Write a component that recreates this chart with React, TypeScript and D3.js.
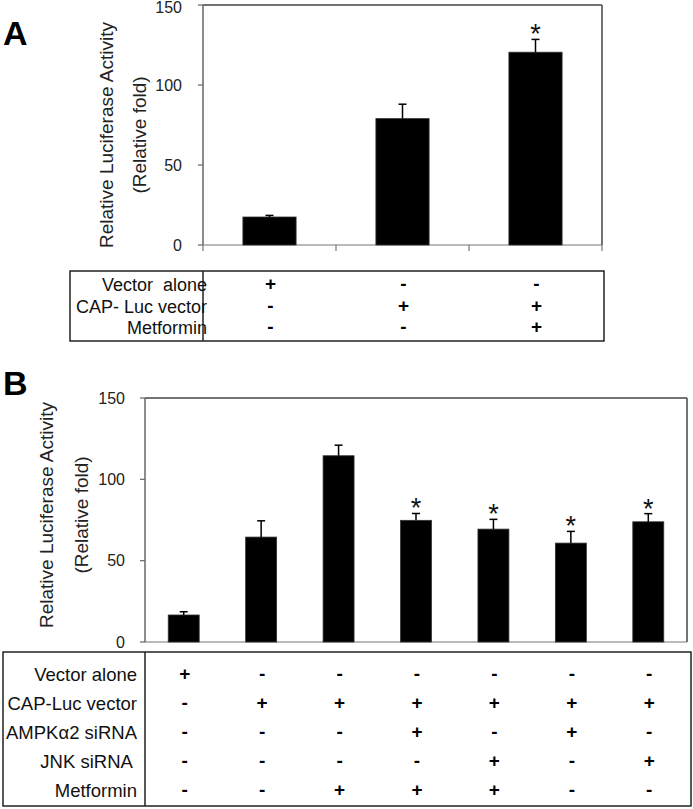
import React from "react";
import * as d3 from "d3";

// ---- Panel A data ----
const groupsA = ["A1", "A2", "A3"];
const meansA = [17.5, 79, 120.5];
const errorsA = [1, 9, 8];
const starsA = [false, false, true];
const rowLabelsA = ["Vector  alone", "CAP- Luc vector", "Metformin"];
const signsA = [
  ["+", "-", "-"],
  ["-", "+", "+"],
  ["-", "-", "+"],
];

// ---- Panel B data ----
const groupsB = ["B1", "B2", "B3", "B4", "B5", "B6", "B7"];
const meansB = [16.6, 64.5, 114.5, 74.8, 69.4, 60.8, 73.9];
const errorsB = [2, 10, 6.5, 4.2, 6, 7.2, 5];
const starsB = [false, false, false, true, true, true, true];
const rowLabelsB = ["Vector alone", "CAP-Luc vector", "AMPKα2 siRNA", "JNK siRNA ", "Metformin"];
const signsB = [
  ["+", "-", "-", "-", "-", "-", "-"],
  ["-", "+", "+", "+", "+", "+", "+"],
  ["-", "-", "-", "+", "-", "+", "-"],
  ["-", "-", "-", "-", "+", "-", "+"],
  ["-", "-", "+", "+", "+", "-", "-"],
];

const yTicks = [0, 50, 100, 150];
const yTitle1 = "Relative Luciferase Activity";
const yTitle2 = "(Relative fold)";

const FONT = "'Liberation Sans', Arial, sans-serif";

type PanelProps = {
  letter: string;
  letterY: number;
  groups: string[];
  means: number[];
  errors: number[];
  stars: boolean[];
  left: number;
  right: number;
  top: number;
  bottom: number;
  xTicks: boolean;
  titleX1: number;
  titleX2: number;
  titleY: number;
  table: { x0: number; x1: number; y0: number; y1: number; labelX: number; rows: number[]; font: number };
  rowLabels: string[];
  signs: string[][];
  tickGap: number;
};

function Panel(p: PanelProps) {
  const x = d3
    .scaleBand<string>()
    .domain(p.groups)
    .range([p.left, p.right])
    .paddingInner(0.6)
    .paddingOuter(0.3);
  const y = d3.scaleLinear().domain([0, 150]).range([p.bottom, p.top]);
  const step = x.step();
  const bw = x.bandwidth();
  const boundaries = p.groups.map((g) => (x(g) as number) - (step - bw) / 2).concat([p.right]);
  const axisColor = "#444";
  return (
    <g>
      <text x={3} y={p.letterY} fontFamily={FONT} fontWeight="bold" fontSize={34} fill="#000">
        {p.letter}
      </text>
      {/* y title */}
      <text
        transform={`translate(${p.titleX1},${p.titleY}) rotate(-90)`}
        textAnchor="middle"
        fontFamily={FONT}
        fontSize={19}
        fill="#222"
      >
        {yTitle1}
      </text>
      <text
        transform={`translate(${p.titleX2},${p.titleY}) rotate(-90)`}
        textAnchor="middle"
        fontFamily={FONT}
        fontSize={19}
        fill="#222"
      >
        {yTitle2}
      </text>
      {/* box */}
      <line x1={p.left} x2={p.right} y1={p.top} y2={p.top} stroke={axisColor} strokeWidth={1.5} />
      <line x1={p.right} x2={p.right} y1={p.top} y2={p.bottom} stroke={axisColor} strokeWidth={1.5} />
      <line x1={p.left} x2={p.left} y1={p.top} y2={p.bottom} stroke="#666" strokeWidth={1.5} />
      <line x1={p.left} x2={p.right} y1={p.bottom} y2={p.bottom} stroke="#777" strokeWidth={1.2} />
      {yTicks.map((t) => (
        <g key={t}>
          <line x1={p.left - 5} x2={p.left} y1={y(t)} y2={y(t)} stroke="#666" strokeWidth={1.2} />
          <text
            x={p.left - p.tickGap}
            y={Math.max(y(t), 7)}
            dy="0.36em"
            textAnchor="end"
            fontFamily={FONT}
            fontSize={16}
            fill="#222"
          >
            {t}
          </text>
        </g>
      ))}
      {p.xTicks &&
        boundaries.map((b, i) => (
          <line key={i} x1={b} x2={b} y1={p.bottom} y2={p.bottom + 6} stroke="#777" strokeWidth={1.2} />
        ))}
      {/* bars */}
      {p.groups.map((g, i) => {
        const bx = x(g) as number;
        const cx = bx + bw / 2;
        const top = y(p.means[i]);
        const et = y(p.means[i] + p.errors[i]);
        return (
          <g key={g}>
            <rect x={bx} y={top} width={bw} height={p.bottom - top} fill="#000" stroke="#333" strokeWidth={0.8} />
            <line x1={cx} x2={cx} y1={top} y2={et} stroke="#000" strokeWidth={1.5} />
            <line x1={cx - 4} x2={cx + 4} y1={et} y2={et} stroke="#000" strokeWidth={1.5} />
            {p.stars[i] && (
              <text x={cx} y={et + 4} textAnchor="middle" fontFamily={FONT} fontSize={27} fill="#111">
                *
              </text>
            )}
          </g>
        );
      })}
      {/* table */}
      <rect
        x={p.table.x0}
        y={p.table.y0}
        width={p.table.x1 - p.table.x0}
        height={p.table.y1 - p.table.y0}
        fill="none"
        stroke="#222"
        strokeWidth={1.5}
      />
      <line x1={p.left} x2={p.left} y1={p.table.y0} y2={p.table.y1} stroke="#222" strokeWidth={1.5} />
      {p.rowLabels.map((lab, r) => (
        <g key={r}>
          <text
            x={p.table.labelX}
            y={p.table.rows[r]}
            textAnchor="end"
            fontFamily={FONT}
            fontSize={p.table.font}
            fill="#111"
            style={{ whiteSpace: "pre" }}
          >
            {lab}
          </text>
          {p.signs[r].map((s, c) => {
            const cx = (x(p.groups[c]) as number) + bw / 2 + 1;
            return (
              <text
                key={c}
                x={cx}
                y={p.table.rows[r] - 1}
                textAnchor="middle"
                fontFamily={FONT}
                fontWeight="bold"
                fontSize={19}
                fill="#000"
              >
                {s === "-" ? "-" : "+"}
              </text>
            );
          })}
        </g>
      ))}
    </g>
  );
}

export default function App() {
  return (
    <svg
      width={693}
      height={809}
      style={{ position: "absolute", left: 0, top: 0, background: "#fff" }}
    >
      <rect width={693} height={809} fill="#fff" />
      <Panel
        letter="A"
        letterY={45}
        groups={groupsA}
        means={meansA}
        errors={errorsA}
        stars={starsA}
        left={203}
        right={602}
        top={5}
        bottom={245}
        xTicks={true}
        titleX1={113}
        titleX2={146}
        titleY={135}
        table={{ x0: 70, x1: 604, y0: 271, y1: 341, labelX: 207, rows: [291, 313, 334], font: 18 }}
        rowLabels={rowLabelsA}
        signs={signsA}
        tickGap={21}
      />
      <Panel
        letter="B"
        letterY={395}
        groups={groupsB}
        means={meansB}
        errors={errorsB}
        stars={starsB}
        left={145}
        right={687}
        top={398}
        bottom={642}
        xTicks={false}
        titleX1={53}
        titleX2={88}
        titleY={515}
        table={{ x0: 3, x1: 691, y0: 652, y1: 806, labelX: 137, rows: [681, 710, 739, 768, 797], font: 18.5 }}
        rowLabels={rowLabelsB}
        signs={signsB}
        tickGap={20}
      />
    </svg>
  );
}
